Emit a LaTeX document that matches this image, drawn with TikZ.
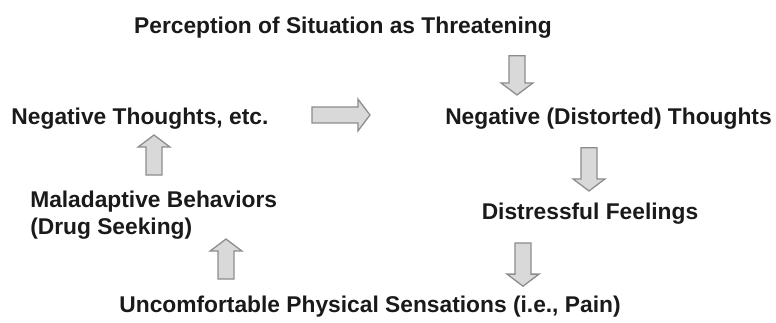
\documentclass[tikz,border=0pt]{standalone}
\usepackage{fontspec}
\setmainfont{Liberation Sans}
\usepackage{xcolor}
\usepackage{tikz}
\usetikzlibrary{positioning,shapes.arrows}
\definecolor{txtdark}{HTML}{1A1A1A}
\definecolor{arrfill}{HTML}{D9D9D9}
\definecolor{arredge}{HTML}{8C8C8C}

\begin{document}
\begin{tikzpicture}[
  label/.style={font=\fontsize{16.2}{19.2}\selectfont\bfseries, text=txtdark, inner sep=0pt},
  blockarr/.style={single arrow, draw=arredge, fill=arrfill, line width=0.9pt,
    inner xsep=0pt, inner ysep=0.18cm, minimum width=0.8cm, single arrow head extend=0.2cm,
    single arrow tip angle=106, minimum height=#1},
  blockarr/.default=1cm,
]
% canvas 776x322 px at 40 px per cm
\useasboundingbox (0,0) rectangle (19.4,8.05);

% labels
\node[label, anchor=base] (percept) at (8.575,7.2) {Perception of Situation as Threatening};
\node[label, anchor=base west] (negthought) at (0.28,4.93) {Negative Thoughts, etc.};
\node[label, anchor=base east] (distorted) at (19.3,4.93) {Negative (Distorted) Thoughts};
\node[label, anchor=north west, align=left] (malad) at (0.75,3.28) {Maladaptive Behaviors\\(Drug Seeking)};
\node[label, anchor=base] (distress) at (14.75,2.57) {Distressful Feelings};
\node[label, anchor=base] (uncomf) at (9.25,0.23) {Uncomfortable Physical Sensations (i.e., Pain)};

% block arrows
\node[blockarr=0.98cm, rotate=-90] (arrA) at (12.925,6.24) {};
\node[blockarr=1.45cm] (arrB) at (8.45,5.175) {};
\node[blockarr=1.08cm, rotate=-90] (arrC) at (14.725,3.89) {};
\node[blockarr=1.08cm, rotate=-90] (arrD) at (13.075,1.51) {};
\node[blockarr=1.0cm, rotate=90] (arrE) at (5.65,1.5) {};
\node[blockarr=1.0cm, rotate=90] (arrF) at (3.85,4.1) {};
\end{tikzpicture}
\end{document}
